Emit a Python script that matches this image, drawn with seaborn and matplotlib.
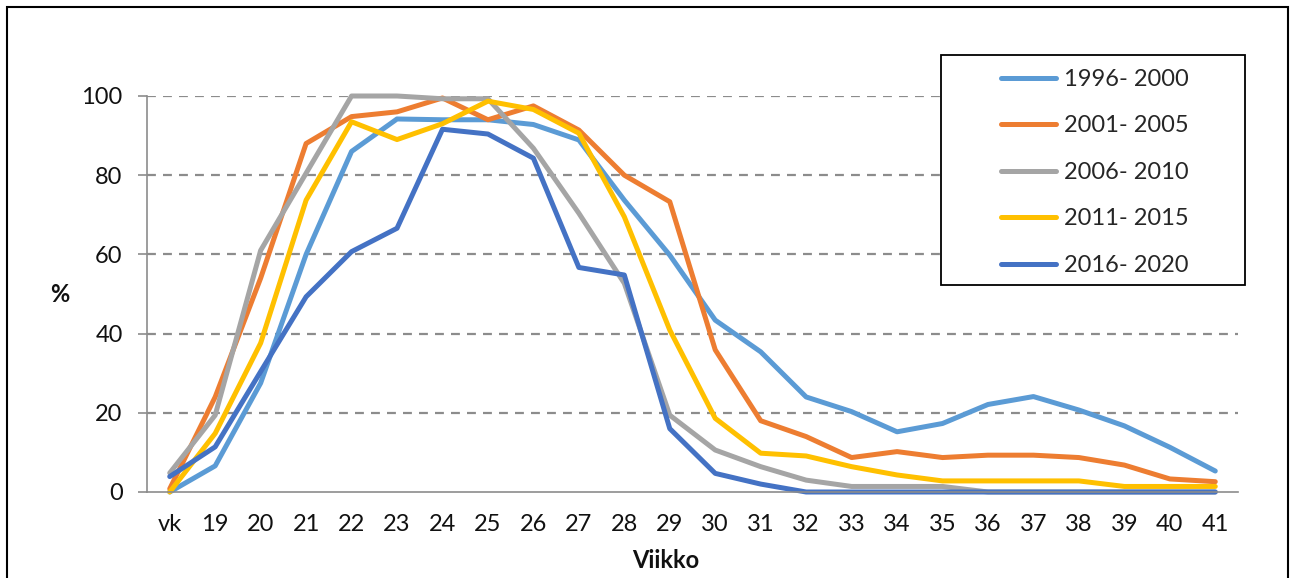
import matplotlib
matplotlib.use("Agg")
import matplotlib.pyplot as plt
import seaborn as sns
import pandas as pd
from matplotlib.patches import Rectangle
from matplotlib.lines import Line2D

weeks = ['vk', '19', '20', '21', '22', '23', '24', '25', '26', '27', '28', '29',
         '30', '31', '32', '33', '34', '35', '36', '37', '38', '39', '40', '41']

labels = ['1996- 2000', '2001- 2005', '2006- 2010', '2011- 2015', '2016- 2020']

s1996 = [0, 6.6, 27.5, 60, 86, 94.2, 94, 94, 92.8, 88.9, 73.7, 59.8,
         43.4, 35.4, 24, 20.3, 15.2, 17.3, 22.1, 24.1, 20.7, 16.7, 11.3, 5.3]
s2001 = [0.8, 24, 54, 88, 94.8, 96, 99.5, 94, 97.5, 91.4, 80, 73.3,
         35.9, 18, 14, 8.7, 10.2, 8.7, 9.3, 9.3, 8.7, 6.8, 3.3, 2.6]
s2006 = [4.8, 19.4, 61, 80.5, 100, 100, 99.3, 99.3, 86.8, 70.4, 52.7, 19.4,
         10.6, 6.4, 3.0, 1.4, 1.4, 1.4, 0, 0, 0, 0, 0, 0]
s2011 = [0, 14.8, 37.6, 73.7, 93.5, 89, 93, 98.7, 96.6, 90.6, 69.5, 40.9,
         18.6, 9.8, 9.1, 6.4, 4.3, 2.8, 2.8, 2.8, 2.8, 1.4, 1.4, 1.4]
s2016 = [3.9, 11.4, 30.4, 49.3, 60.7, 66.6, 91.6, 90.4, 84.3, 56.7, 54.8, 16,
         4.7, 2.0, 0, 0, 0, 0, 0, 0, 0, 0, 0, 0]

colors = ['#5B9BD5', '#ED7D31', '#A5A5A5', '#FFC000', '#4472C4']
yticks = [0, 20, 40, 60, 80, 100]

series = [s1996, s2001, s2006, s2011, s2016]
rows = []
for lab, vals in zip(labels, series):
    for i, v in enumerate(vals):
        rows.append({'pos': i, 'week': weeks[i], 'value': v, 'period': lab})
df = pd.DataFrame(rows)

sns.set_theme(style='white')
plt.rcParams['font.family'] = ['Lato', 'DejaVu Sans']

FS = 17
W, H = 1293, 578
fig = plt.figure(figsize=(W / 100, H / 100), dpi=100)
ax = fig.add_axes([147 / W, 1 - 492 / H, (1238 - 147) / W, (492 - 96) / H])

sns.lineplot(data=df, x='pos', y='value', hue='period', hue_order=labels,
             palette=colors, linewidth=3.6, sort=False, legend=False, ax=ax)
for ln in ax.lines:
    ln.set_clip_on(False)
    ln.set_solid_capstyle('round')
    ln.set_solid_joinstyle('round')

ax.set_xlim(-0.5, len(weeks) - 0.5)
ax.set_ylim(0, 100)
ax.set_xticks(range(len(weeks)))
ax.set_xticklabels(weeks)
ax.set_yticks(yticks)
ax.set_yticklabels([str(t) for t in yticks])

gc = '#8C8C8C'
for t in yticks[1:]:
    ax.axhline(t, color=gc, lw=1.6, dashes=(4, 3.2), zorder=0.5)

for s in ['top', 'right']:
    ax.spines[s].set_visible(False)
for s in ['left', 'bottom']:
    ax.spines[s].set_color(gc)
    ax.spines[s].set_linewidth(1.2)
ax.tick_params(axis='y', length=6.5, width=1.2, color=gc, direction='out',
               pad=11, labelsize=FS, labelcolor='#111111', left=True)
ax.tick_params(axis='x', length=0, pad=16, labelsize=FS, labelcolor='#111111')

ax.set_xlabel('Viikko', fontsize=FS, fontweight='bold', color='#111111', va='center')
ax.set_ylabel('%', fontsize=FS, fontweight='bold', color='#111111',
              rotation=0, va='center', ha='center')
ax.xaxis.set_label_coords((666 - 147) / 1091, (492 - 560) / 396)
ax.yaxis.set_label_coords((60 - 147) / 1091, (492 - 295) / 396)

# legend box
fig.patches.append(Rectangle((941 / W, 1 - 285 / H), (1245 - 941) / W, (285 - 55) / H,
                             transform=fig.transFigure, facecolor='white',
                             edgecolor='black', lw=1.3, zorder=5))
handles = [Line2D([0], [0], color=c, lw=3.6, solid_capstyle='round') for c in colors]
leg = fig.legend(handles, labels, loc='upper left',
                 bbox_to_anchor=(1001 / W, 1 - 69 / H), frameon=False,
                 fontsize=FS, handlelength=2.35, handletextpad=0.3,
                 labelspacing=1.08, borderpad=0, borderaxespad=0)
leg.set_zorder(6)

# outer border
fig.patches.append(Rectangle((7 / W, -0.02), (1288 - 7) / W, 1.02 - 7 / H,
                             transform=fig.transFigure, facecolor='none',
                             edgecolor='black', lw=1.5, zorder=10))

fig.savefig('out.png', dpi=100)
